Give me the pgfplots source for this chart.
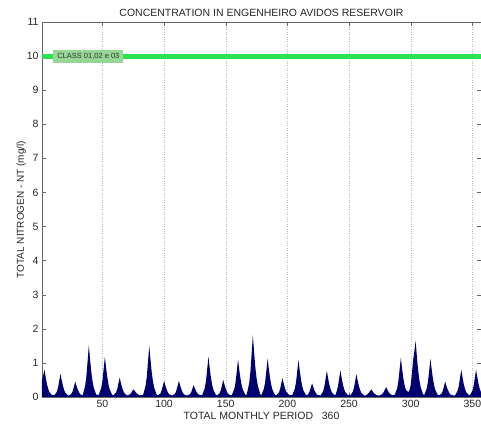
\documentclass[border=0pt]{standalone}
\usepackage{fontspec}
\setmainfont{Liberation Sans}
\usepackage{pgfplots}
\pgfplotsset{compat=1.18}
\definecolor{navyfill}{RGB}{0,0,110}
\definecolor{classgreen}{RGB}{45,225,85}
\definecolor{labelgreen}{RGB}{150,215,150}
\begin{document}
\begin{tikzpicture}
\begin{axis}[
  name=ax,
  scale only axis,
  width=439pt, height=375pt,
  xmin=1, xmax=357, ymin=0, ymax=11,
  xtick={50,100,...,350},
  ytick={0,1,...,11},
  tick align=inside,
  tick pos=both,
  major tick length=4pt,
  xmajorgrids=true,
  grid style={dotted, gray!55, line width=0.35pt},
  axis line style={gray!80!black, line width=0.5pt},
  every tick/.style={gray!80!black},
  tick label style={font=\fontsize{10.5}{12}\selectfont, text=black!85},
  /pgf/number format/assume math mode=true,
  xticklabel style={yshift=0pt},
  title={CONCENTRATION IN ENGENHEIRO AVIDOS RESERVOIR},
  title style={font=\fontsize{10.5}{12}\selectfont, yshift=-4pt, text=black!85},
  xlabel={TOTAL MONTHLY PERIOD\ \ \ 360},
  xlabel style={font=\fontsize{10.5}{12}\selectfont, yshift=3pt, text=black!85},
  ylabel={TOTAL NITROGEN - NT (mg/l)},
  ylabel style={font=\fontsize{10}{12}\selectfont, yshift=-6pt, text=black!85},
  clip=true,
]
\addplot[draw=none, fill=navyfill] coordinates {
(1,0) (1,0.50) (2,0.64) (3,0.80) (4,0.58) (5,0.38) (6,0.24) (7,0.14) (9,0.06)
(11,0.05) (13,0.15) (14,0.27) (15,0.48) (16,0.68) (17,0.49) (18,0.33) (19,0.20) (20,0.12) (22,0.05)
(23,0.05) (25,0.10) (26,0.18) (27,0.32) (28,0.45) (29,0.32) (30,0.22) (31,0.14) (32,0.08) (34,0.05)
(36,0.33) (37,0.61) (38,1.06) (39,1.52) (40,1.09) (41,0.73) (42,0.46) (43,0.27) (45,0.07)
(47,0.06) (49,0.26) (50,0.47) (51,0.83) (52,1.18) (53,0.85) (54,0.57) (55,0.35) (56,0.21) (58,0.06)
(59,0.05) (61,0.13) (62,0.23) (63,0.40) (64,0.57) (65,0.41) (66,0.27) (67,0.17) (68,0.10) (70,0.05)
(71,0.05) (73,0.10) (74,0.16) (75,0.22) (76,0.19) (77,0.14) (78,0.10) (80,0.05)
(83,0.06) (85,0.33) (86,0.60) (87,1.05) (88,1.50) (89,1.08) (90,0.72) (91,0.45) (92,0.27) (94,0.07)
(95,0.05) (97,0.10) (98,0.19) (99,0.33) (100,0.47) (101,0.34) (102,0.23) (103,0.14) (104,0.08) (106,0.05)
(107,0.05) (109,0.10) (110,0.19) (111,0.33) (112,0.47) (113,0.34) (114,0.23) (115,0.14) (116,0.08) (118,0.05)
(119,0.05) (121,0.08) (122,0.14) (123,0.25) (124,0.35) (125,0.25) (126,0.17) (127,0.11) (128,0.07) (130,0.05)
(131,0.06) (133,0.26) (134,0.47) (135,0.83) (136,1.18) (137,0.85) (138,0.57) (139,0.35) (140,0.21) (142,0.06)
(143,0.05) (145,0.11) (146,0.20) (147,0.35) (148,0.50) (149,0.36) (150,0.24) (151,0.15) (152,0.09) (154,0.05)
(155,0.06) (157,0.24) (158,0.44) (159,0.77) (160,1.10) (161,0.79) (162,0.53) (163,0.33) (164,0.20) (166,0.06)
(167,0.07) (169,0.40) (170,0.73) (171,1.27) (172,1.82) (173,1.31) (174,0.87) (175,0.55) (176,0.33) (178,0.08)
(179,0.06) (181,0.25) (182,0.45) (183,0.79) (184,1.13) (185,0.81) (186,0.54) (187,0.34) (188,0.20) (190,0.06)
(191,0.05) (193,0.12) (194,0.22) (195,0.39) (196,0.55) (197,0.40) (198,0.26) (199,0.17) (200,0.10) (202,0.05)
(204,0.06) (206,0.24) (207,0.43) (208,0.76) (209,1.08) (210,0.78) (211,0.52) (212,0.32) (213,0.19) (215,0.06)
(216,0.05) (217,0.09) (218,0.16) (219,0.28) (220,0.40) (221,0.29) (222,0.19) (223,0.12) (224,0.07) (226,0.05)
(227,0.05) (229,0.17) (230,0.31) (231,0.54) (232,0.77) (233,0.55) (234,0.37) (235,0.23) (236,0.14) (238,0.06)
(239,0.06) (240,0.17) (241,0.31) (242,0.55) (243,0.78) (244,0.56) (245,0.37) (246,0.23) (247,0.14) (249,0.06)
(251,0.05) (253,0.15) (254,0.27) (255,0.47) (256,0.67) (257,0.48) (258,0.32) (259,0.20) (260,0.12) (262,0.05)
(263,0.04) (265,0.08) (266,0.12) (267,0.17) (268,0.22) (269,0.17) (270,0.12) (271,0.09) (272,0.06) (274,0.04)
(275,0.05) (277,0.09) (278,0.14) (279,0.21) (280,0.29) (281,0.22) (282,0.15) (283,0.10) (284,0.07) (286,0.05)
(287,0.06) (289,0.25) (290,0.46) (291,0.81) (292,1.15) (293,0.83) (294,0.55) (295,0.35) (296,0.22) (298,0.14)
(299,0.20) (300,0.35) (301,0.70) (302,1.10) (303,1.35) (304,1.65) (305,1.19) (306,0.79) (307,0.50) (308,0.30) (310,0.08)
(311,0.06) (313,0.25) (314,0.45) (315,0.78) (316,1.12) (317,0.81) (318,0.54) (319,0.34) (320,0.20) (322,0.06)
(323,0.05) (325,0.10) (326,0.18) (327,0.32) (328,0.45) (329,0.32) (330,0.22) (331,0.14) (332,0.08) (334,0.05)
(336,0.05) (338,0.18) (339,0.32) (340,0.56) (341,0.80) (342,0.58) (343,0.38) (344,0.24) (345,0.14) (347,0.06)
(348,0.05) (350,0.18) (351,0.32) (352,0.56) (353,0.80) (354,0.58) (355,0.38) (356,0.24) (357,0.14) (357,0)
} \closedcycle;
\addplot[classgreen, line width=5pt] coordinates {(1,10) (357,10)};
\node[fill=labelgreen, anchor=west, inner xsep=4pt, inner ysep=2pt, font=\fontsize{7.5}{8}\selectfont, text=black!80, minimum height=13pt]
  at (axis cs:10,10) {CLASS 01,02 e 03};
\end{axis}
\pgfresetboundingbox
\path[use as bounding box] ([xshift=-42pt,yshift=-28pt]ax.south west) rectangle ([yshift=22pt]ax.north east);
\end{tikzpicture}
\end{document}
